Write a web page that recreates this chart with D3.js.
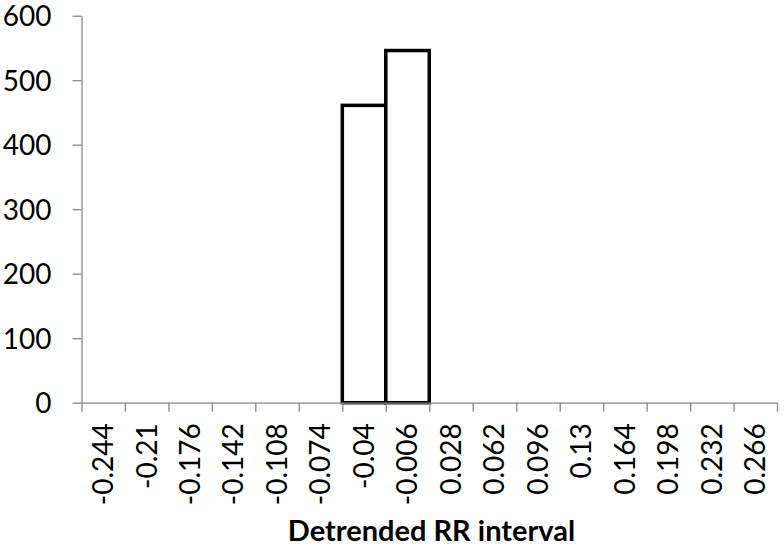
<!DOCTYPE html>
<html><head><meta charset="utf-8">
<script src="https://cdn.jsdelivr.net/npm/d3@7"></script>
<style>
html,body{margin:0;padding:0;background:#fff;}
svg{display:block;}
text{font-family:Lato,"Open Sans",sans-serif;fill:#000;}
</style></head>
<body><svg id="chart" width="784" height="547"></svg>
<script>
const categories = ["-0.244","-0.21","-0.176","-0.142","-0.108","-0.074","-0.04","-0.006","0.028","0.062","0.096","0.13","0.164","0.198","0.232","0.266"];
const counts = [0,0,0,0,0,0,461,546,0,0,0,0,0,0,0,0];
const yTicks = [0,100,200,300,400,500,600];
const xTitle = "Detrended RR interval";

(function(){
const svg = d3.select("#chart");
const mLeft = 81.5, mRight = 777, mTop = 15.7, mBottom = 402.7;
const axisColor = "#868686";
const fontFam = "Lato, 'Open Sans', sans-serif";

const x = d3.scaleBand().domain(categories).range([mLeft, mRight]).paddingInner(0).paddingOuter(0);
const y = d3.scaleLinear().domain([0, 600]).range([mBottom, mTop]);
const xIdx = d3.scaleLinear().domain([0, categories.length]).range([mLeft, mRight]);

const data = categories.map((c, i) => ({c, v: counts[i]}));

// bars
svg.append("g").selectAll("rect").data(data.filter(d => d.v > 0)).join("rect")
  .attr("x", d => x(d.c)).attr("width", x.bandwidth())
  .attr("y", d => y(d.v)).attr("height", d => y(0) - y(d.v))
  .attr("fill", "#fff").attr("stroke", "#000").attr("stroke-width", 3.5);

// x axis line + boundary ticks
const gx = svg.append("g").attr("transform", `translate(0,${mBottom})`)
  .call(d3.axisBottom(xIdx).tickValues(d3.range(categories.length + 1)).tickSize(9).tickSizeOuter(0).tickFormat(""));
gx.selectAll("path,line").attr("stroke", axisColor).attr("stroke-width", 1.3);

// x labels
const gxl = svg.append("g").attr("transform", `translate(0,${mBottom})`)
  .call(d3.axisBottom(x).tickSize(0).tickPadding(0));
gxl.select(".domain").remove();
gxl.selectAll("text")
  .attr("font-family", fontFam)
  .attr("font-size", 28)
  .attr("fill", "#000")
  .attr("transform", "rotate(-90)")
  .attr("text-anchor", "end")
  .attr("x", -20.5).attr("y", 0).attr("dy", "0.35em").attr("dx", 0);

// y axis
const gy = svg.append("g").attr("transform", `translate(${mLeft},0)`)
  .call(d3.axisLeft(y).tickValues(yTicks).tickSize(9).tickSizeOuter(0).tickPadding(21).tickFormat(d3.format("d")));
gy.selectAll("path,line").attr("stroke", axisColor).attr("stroke-width", 1.3);
gy.selectAll("text").attr("font-family", fontFam).attr("font-size", 28).attr("fill", "#000").attr("dy", "0.36em");

// x title
svg.append("text").attr("x", (288 + 575) / 2).attr("y", 541)
  .attr("text-anchor", "middle").attr("font-weight", "bold").attr("font-size", 29)
  .attr("font-family", fontFam)
  .text(xTitle);
})();
</script></body></html>
